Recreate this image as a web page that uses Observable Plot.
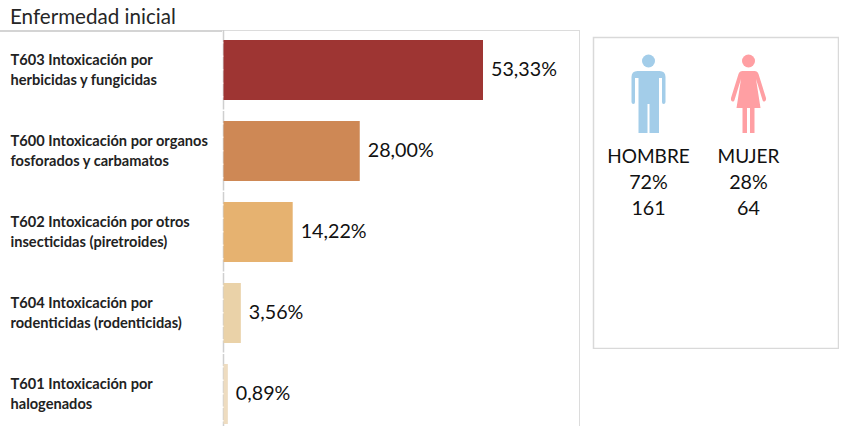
<!DOCTYPE html>
<html><head><meta charset="utf-8">
<script src="https://cdn.jsdelivr.net/npm/d3@7"></script>
<script src="https://cdn.jsdelivr.net/npm/@observablehq/plot@0.6"></script>
<style>
html,body{margin:0;padding:0;background:#fff;overflow:hidden}
#page{position:relative;width:849px;height:426px;font-family:Lato,sans-serif;color:#1a1a1a}
#title{position:absolute;left:10px;top:4px;font-size:20.6px;line-height:24px;color:#262626}
#frameTop{position:absolute;left:222px;top:30px;width:357px;height:396px;border-top:1px solid #dcdcdc;border-right:1.5px solid #dcdcdc}
#frameLeft{position:absolute;left:0;top:29.5px;width:222px;height:2px;background:#d4d4d4}
#chart,#panel{position:absolute}
#chart{left:0;top:0}
#panel{left:591.5px;top:35.5px}
svg{display:block;background:transparent}
</style></head>
<body><div id="page">
<div id="title">Enfermedad inicial</div>
<div id="frameLeft"></div><div id="frameTop"></div>
<div id="chart"></div><div id="panel"></div>
</div>
<script>
const categories = ["T603","T600","T602","T604","T601"];
const labels = [
  "T603 Intoxicación por\nherbicidas y fungicidas",
  "T600 Intoxicación por organos\nfosforados y carbamatos",
  "T602 Intoxicación por otros\ninsecticidas (piretroides)",
  "T604 Intoxicación por\nrodenticidas (rodenticidas)",
  "T601 Intoxicación por\nhalogenados"
];
const values = [53.33, 28.00, 14.22, 3.56, 0.89];
const valueLabels = ["53,33%","28,00%","14,22%","3,56%","0,89%"];
const barColors = ["#9E3533","#CE8855","#E6B270","#EAD2A8","#EEDCC0"];

const sexes = ["HOMBRE","MUJER"];
const percents = ["72%","28%"];
const counts = ["161","64"];
const iconColors = ["#A3CDE9","#FF9FA3"];

const svgUri = s => "data:image/svg+xml;utf8," + encodeURIComponent(s);
const manIcon = c => svgUri(`<svg xmlns="http://www.w3.org/2000/svg" viewBox="0 0 36 80"><g fill="${c}"><circle cx="18" cy="7" r="6.5"/><path d="M7 17H29Q35 17 35 23V48Q35 50 33 50Q31.5 50 31.5 48V24H28.5V79H19V50H17V79H8V24H4.500V48Q4.500 50 3 50Q1 50 1 48V23Q1 17 7 17Z"/></g></svg>`);
const womanIcon = c => svgUri(`<svg xmlns="http://www.w3.org/2000/svg" viewBox="0 0 36 80"><g fill="${c}"><circle cx="18" cy="7" r="6.5"/><path d="M12 17H24Q27 17 28 20L35.500 44Q36 47 34 47.500Q32.500 48 32 46L25.500 25L30 54H24V79H19.500V54H16.500V79H12V54H6L10.500 25L4 46Q3.500 48 2 47.500Q0 47 .5 44L8 20Q9 17 12 17Z"/></g></svg>`);
const icons = [manIcon(iconColors[0]), womanIcon(iconColors[1])];

const rows = categories.map((c,i)=>({c,label:labels[i],v:values[i],t:valueLabels[i],col:barColors[i]}));

document.getElementById("chart").append(Plot.plot({
  width:849,height:426,marginTop:30,marginBottom:0,marginLeft:0,marginRight:0,
  x:{domain:[0,53.33],range:[223.5,483],axis:null},
  y:{domain:categories,range:[29.5,434.5],paddingInner:21/81,paddingOuter:21/162,axis:null},
  style:{background:"transparent"},
  marks:[
    Plot.ruleX([0],{stroke:"#cfcfcf",strokeWidth:1.5,strokeDasharray:"12 1.500",dx:-0.5}),
    Plot.barX(rows,{x:"v",y:"c",fill:"col"}),
    Plot.text(rows,{x:"v",y:"c",text:"t",dx:7.5,dy:-1,textAnchor:"start",fontSize:19.7,fontFamily:"Lato, sans-serif",fill:"#111"}),
    Plot.text(rows,{x:0,y:"c",text:"label",dx:-213.5,dy:-1.5,textAnchor:"start",lineHeight:1.37,fontSize:14.6,fontWeight:700,fontFamily:"Lato, sans-serif",fill:"#222"})
  ]
}));

const sexRows = sexes.map((s,i)=>({s,p:percents[i],n:counts[i],icon:icons[i]}));
const textStyle = {x:"s",textAnchor:"middle",fontFamily:"Lato, sans-serif",fill:"#111"};
document.getElementById("panel").append(Plot.plot({
  width:247,height:313,margin:1,
  x:{domain:sexes,range:[56,156.5],type:"point",padding:0,axis:null},
  y:{domain:["name","pct","count"],range:[119.5,171.5],type:"point",padding:0,axis:null},
  style:{background:"transparent"},
  marks:[
    Plot.frame({stroke:"#d9d9d9",strokeWidth:1.5}),
    Plot.image(sexRows,{x:"s",frameAnchor:"top",dy:56.5,src:"icon",width:36,height:80,preserveAspectRatio:"none"}),
    Plot.text(sexRows,{...textStyle,fontSize:19,y:()=>"name",text:"s"}),
    Plot.text(sexRows,{...textStyle,fontSize:19.7,y:()=>"pct",text:"p"}),
    Plot.text(sexRows,{...textStyle,fontSize:19.7,y:()=>"count",text:"n"})
  ]
}));
</script>
</body></html>
